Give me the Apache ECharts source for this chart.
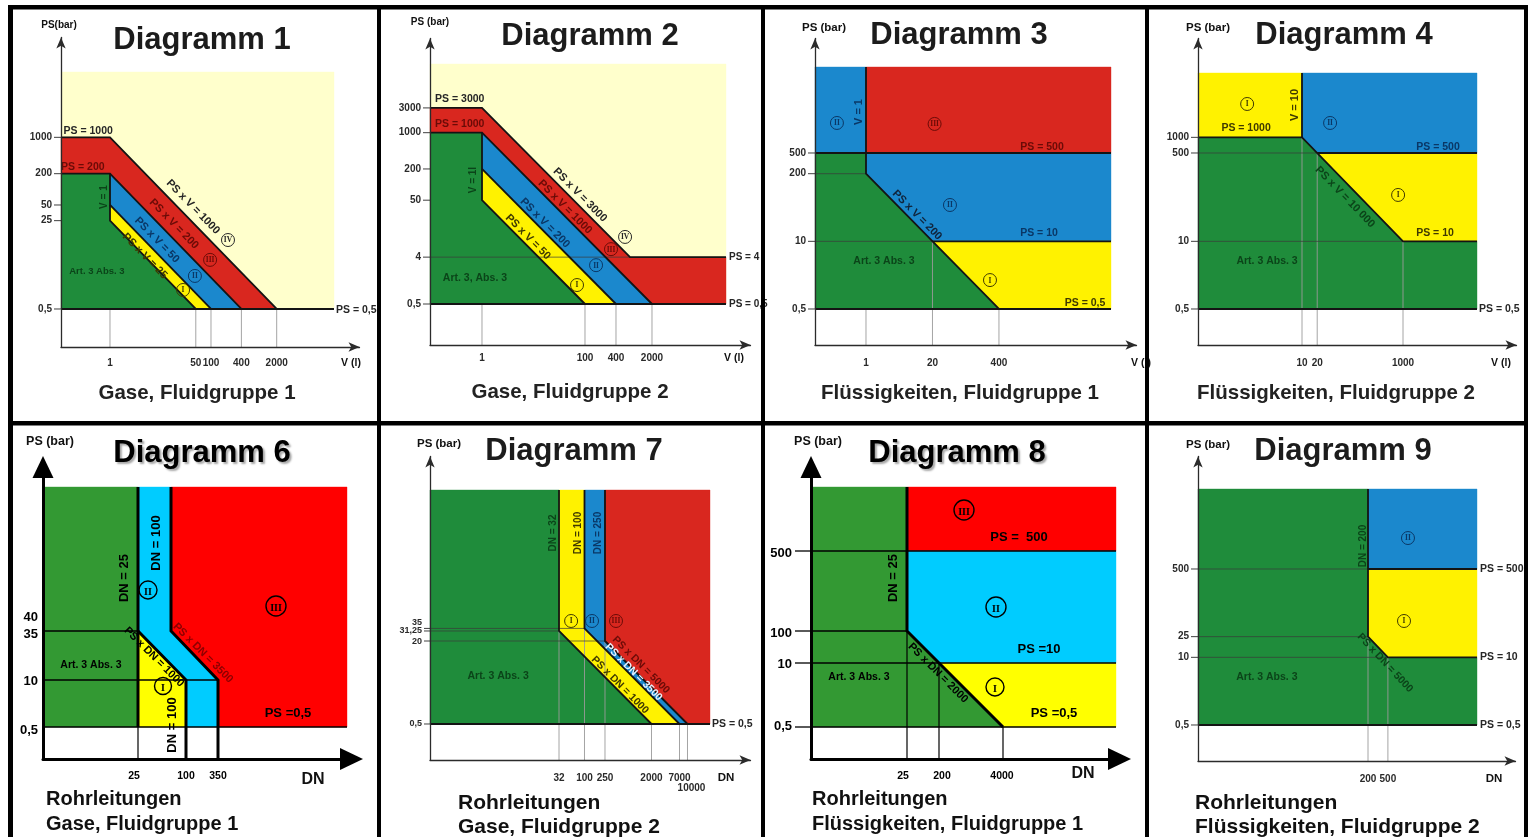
<!DOCTYPE html>
<html><head><meta charset="utf-8">
<script src="https://cdn.jsdelivr.net/npm/echarts@6/dist/echarts.min.js"></script>
<style>html,body{margin:0;padding:0;background:#fff}#c{width:1528px;height:837px}</style>
</head><body><div id="c"></div>
<script>
const FONT = '"Liberation Sans", Arial, Helvetica, sans-serif';

// ===== Diagramm 1 : Gase, Fluidgruppe 1 (V in l, PS in bar, log-log) =====
const d1XRange = [0.1071, 87240];
const d1YRange = [0.0929, 83150];
const d1Plot = [27260, 18060];
const d1XTicks = [1, 50, 100, 400, 2000];
const d1YTicks = [0.5, 25, 50, 200, 1000];
const d1Art3 = [['L', 0.5], ['L', 200], [1, 200], [1, 25], [50, 0.5]];
const d1Cat1 = [[1, 25], [1, 50], [100, 0.5], [50, 0.5]];
const d1Cat2 = [[1, 50], [1, 200], [400, 0.5], [100, 0.5]];
const d1Cat3 = [['L', 200], ['L', 1000], [1, 1000], [2000, 0.5], [400, 0.5], [1, 200]];
const d1Cat4 = [['L', 0.5], ['L', 'T'], ['R', 'T'], ['R', 0.5]];
const d1Limits = [
  [['L', 1000], [1, 1000], [2000, 0.5]],
  [['L', 200], [1, 200], [400, 0.5]],
  [[1, 200], [1, 25], [50, 0.5]],
  [[1, 50], [100, 0.5]],
  [['L', 0.5], ['R', 0.5]]
];
const d1Drops = [[1, 0.5], [50, 0.5], [100, 0.5], [400, 0.5], [2000, 0.5]];
const d1Levels = [];

// ===== Diagramm 2 : Gase, Fluidgruppe 2 =====
const d2XRange = [0.0978, 163600];
const d2YRange = [0.0811, 65250];
const d2Plot = [54700, 21050];
const d2XTicks = [1, 100, 400, 2000];
const d2YTicks = [0.5, 4, 50, 200, 1000, 3000];
const d2Art3 = [['L', 0.5], ['L', 1000], [1, 1000], [1, 50], [100, 0.5]];
const d2Cat1 = [[1, 50], [1, 200], [400, 0.5], [100, 0.5]];
const d2Cat2 = [[1, 200], [1, 1000], [2000, 0.5], [400, 0.5]];
const d2Cat3 = [['L', 1000], ['L', 3000], [1, 3000], [750, 4], ['R', 4], ['R', 0.5], [2000, 0.5], [1, 1000]];
const d2Cat4 = [['L', 0.5], ['L', 'T'], ['R', 'T'], ['R', 0.5]];
const d2Limits = [
  [['L', 3000], [1, 3000], [750, 4], ['R', 4]],
  [['L', 1000], [1, 1000], [2000, 0.5]],
  [[1, 1000], [1, 50], [100, 0.5]],
  [[1, 200], [400, 0.5]],
  [['L', 0.5], ['R', 0.5]]
];
const d2Drops = [[1, 0.5], [100, 0.5], [400, 0.5], [2000, 0.5]];
const d2Levels = [[4, 750]];

// ===== Diagramm 3 : Flüssigkeiten, Fluidgruppe 1 =====
const d3XRange = [0.1005, 196600];
const d3YRange = [0.1015, 79600];
const d3Plot = [62300, 22530];
const d3XTicks = [1, 20, 400];
const d3YTicks = [0.5, 10, 200, 500];
const d3Art3 = [['L', 0.5], ['L', 500], [1, 500], [1, 200], [400, 0.5]];
const d3Cat1 = [[20, 10], ['R', 10], ['R', 0.5], [400, 0.5]];
const d3Cat2 = [[1, 200], [1, 500], ['R', 500], ['R', 10], [20, 10]];
const d3Cat2Top = [['L', 500], ['L', 'T'], [1, 'T'], [1, 500]];
const d3Cat3 = [[1, 500], [1, 'T'], ['R', 'T'], ['R', 500]];
const d3Limits = [
  [['L', 500], ['R', 500]],
  [[1, 'T'], [1, 200], [400, 0.5]],
  [[20, 10], ['R', 10]],
  [['L', 0.5], ['R', 0.5]]
];
const d3Drops = [[1, 0.5], [20, 10], [400, 0.5]];
const d3Levels = [[200, 1], [10, 20]];

// ===== Diagramm 4 : Flüssigkeiten, Fluidgruppe 2 =====
const d4XRange = [0.0872, 176800];
const d4YRange = [0.1015, 79600];
const d4Plot = [29200, 17270];
const d4XTicks = [10, 20, 1000];
const d4YTicks = [0.5, 10, 500, 1000];
const d4Art3 = [['L', 0.5], ['L', 1000], [10, 1000], [1000, 10], ['R', 10], ['R', 0.5]];
const d4Cat1Top = [['L', 1000], ['L', 'T'], [10, 'T'], [10, 1000]];
const d4Cat1 = [[20, 500], ['R', 500], ['R', 10], [1000, 10]];
const d4Cat2 = [[10, 1000], [10, 'T'], ['R', 'T'], ['R', 500], [20, 500]];
const d4Limits = [
  [['L', 1000], [10, 1000], [1000, 10], ['R', 10]],
  [[10, 'T'], [10, 1000]],
  [[20, 500], ['R', 500]],
  [['L', 0.5], ['R', 0.5]]
];
const d4Drops = [[10, 1000], [20, 500], [1000, 10]];
const d4Levels = [[500, 20], [10, 1000]];

// ===== Diagramm 6 : Rohrleitungen Gase, Fluidgruppe 1 (schematic axes) =====
const d6XRange = [0, 30.85];
const d6YRange = [0, 29.2];
const d6Plot = [30.4, 27.2];
const d6XTicks = [9.5, 14.3, 17.5];
const d6XLabels = ['25', '100', '350'];
const d6YTicks = [3.2, 7.9, 12.8, 14.2];
const d6YLabels = ['0,5', '10', '35', '40'];
const d6Art3 = [['L', 3.2], ['L', 'T'], [9.5, 'T'], [9.5, 3.2]];
const d6Cat1 = [[9.5, 3.2], [9.5, 12.8], [14.3, 7.9], [14.3, 3.2]];
const d6Cat2 = [[9.5, 'T'], [12.8, 'T'], [12.8, 12.8], [17.5, 7.9], [17.5, 3.2], [14.3, 3.2], [14.3, 7.9], [9.5, 12.8]];
const d6Cat3 = [[12.8, 'T'], ['R', 'T'], ['R', 3.2], [17.5, 3.2], [17.5, 7.9], [12.8, 12.8]];
const d6Limits = [
  [[9.5, 'T'], [9.5, 3.2]],
  [[12.8, 'T'], [12.8, 12.8], [17.5, 7.9], [17.5, 'B']],
  [[9.5, 12.8], [14.3, 7.9], [14.3, 'B']]
];
const d6Drops = [[9.5, 3.2]];
const d6Levels = [[12.8, 9.5], [7.9, 17.5], [3.2, 'R']];

// ===== Diagramm 7 : Rohrleitungen Gase, Fluidgruppe 2 (log-log) =====
const d7XRange = [0.1, 167300];
const d7YRange = [0.1009, 72950];
const d7Plot = [27360, 16450];
const d7XTicks = [32, 100, 250, 2000, 7000, 10000];
const d7YTicks = [0.5, 20, 31.25, 35];
const d7Art3 = [['L', 0.5], ['L', 'T'], [32, 'T'], [32, 31.25], [2000, 0.5]];
const d7Cat1 = [[32, 31.25], [32, 'T'], [100, 'T'], [100, 35], [7000, 0.5], [2000, 0.5]];
const d7Cat2 = [[100, 35], [100, 'T'], [250, 'T'], [250, 20], [10000, 0.5], [7000, 0.5]];
const d7Cat3 = [[250, 20], [250, 'T'], ['R', 'T'], ['R', 0.5], [10000, 0.5]];
const d7Limits = [
  [[32, 'T'], [32, 31.25], [2000, 0.5]],
  [[100, 'T'], [100, 35], [7000, 0.5]],
  [[250, 'T'], [250, 20], [10000, 0.5]],
  [['L', 0.5], ['R', 0.5]]
];
const d7Drops = [[32, 31.25], [100, 35], [250, 20], [2000, 0.5], [7000, 0.5], [10000, 0.5]];
const d7Levels = [[35, 100], [31.25, 32], [20, 250]];

// ===== Diagramm 8 : Rohrleitungen Flüssigkeiten, Fluidgruppe 1 (schematic axes) =====
const d8XRange = [0, 30.85];
const d8YRange = [0, 29.2];
const d8Plot = [30.5, 27.2];
const d8XTicks = [9.6, 12.8, 19.2];
const d8XLabels = ['25', '200', '4000'];
const d8YTicks = [3.2, 9.6, 12.8, 20.8];
const d8YLabels = ['0,5', '10', '100', '500'];
const d8Art3 = [['L', 3.2], ['L', 'T'], [9.6, 'T'], [9.6, 12.8], [19.2, 3.2]];
const d8Cat1 = [[12.8, 9.6], ['R', 9.6], ['R', 3.2], [19.2, 3.2]];
const d8Cat2 = [[9.6, 12.8], [9.6, 20.8], ['R', 20.8], ['R', 9.6], [12.8, 9.6]];
const d8Cat3 = [[9.6, 20.8], [9.6, 'T'], ['R', 'T'], ['R', 20.8]];
const d8Limits = [[[9.6, 'T'], [9.6, 12.8], [19.2, 3.2]]];
const d8Drops = [[9.6, 12.8], [12.8, 9.6], [19.2, 3.2]];
const d8Levels = [[20.8, 'R'], [12.8, 9.6], [9.6, 'R'], [3.2, 'R']];

// ===== Diagramm 9 : Rohrleitungen Flüssigkeiten, Fluidgruppe 2 (log-log) =====
const d9XRange = [0.0796, 178200];
const d9YRange = [0.1015, 72850];
const d9Plot = [30270, 17270];
const d9XTicks = [200, 500];
const d9YTicks = [0.5, 10, 25, 500];
const d9Art3 = [['L', 0.5], ['L', 'T'], [200, 'T'], [200, 25], [500, 10], ['R', 10], ['R', 0.5]];
const d9Cat1 = [[200, 25], [200, 500], ['R', 500], ['R', 10], [500, 10]];
const d9Cat2 = [[200, 500], [200, 'T'], ['R', 'T'], ['R', 500]];
const d9Limits = [
  [[200, 'T'], [200, 25], [500, 10], ['R', 10]],
  [[200, 500], ['R', 500]],
  [['L', 0.5], ['R', 0.5]]
];
const d9Drops = [[200, 25], [500, 10]];
const d9Levels = [[500, 200], [25, 200], [10, 500]];

// ---------- styles ----------
const SOFT = { g: '#1f8c3b', y: '#fff200', b: '#1b88cd', r: '#d9271f', bg: '#ffffcc' };
const VIVID = { g: '#339933', y: '#ffff00', b: '#00ccff', r: '#ff0000' };
const INK = { g: '#0b4419', y: '#3f3900', b: '#0a3766', r: '#6b0b07', d: '#262626' };
const de = v => String(v).replace('.', ',');
const nt = (at, text, color, size, rot, align, dx, dy) => ({ at, text, color, size, rot: rot || 0, align: align || 'center', dx: dx || 0, dy: dy || 0 });

const panels = [
  { box: [61, 37.5, 298.5, 309.5], vivid: false, xType: 'log', yType: 'log', xRange: d1XRange, yRange: d1YRange, plot: d1Plot,
    regions: [[d1Cat4, SOFT.bg], [d1Cat3, SOFT.r], [d1Cat2, SOFT.b], [d1Cat1, SOFT.y], [d1Art3, SOFT.g]],
    limits: d1Limits, drops: d1Drops, levels: d1Levels,
    xTicks: d1XTicks, xLabels: d1XTicks.map(de), xLabelDy: 16, yTicks: d1YTicks, yLabels: d1YTicks.map(de), yTickLen: 7,
    notes: [nt([0.37, 1320], 'PS = 1000', INK.d, 10.5), nt([0.29, 270], 'PS = 200', INK.r, 10.5), nt([0.76, 71], 'V = 1', INK.g, 10, 90),
      nt([44, 46], 'PS x V = 1000', INK.d, 11, -45.8), nt([18.5, 21.6], 'PS x V = 200', INK.r, 11, -45.8), nt([8.5, 10.6], 'PS x V = 50', INK.b, 11, -45.8),
      nt([4.9, 5.2], 'PS x V = 25', INK.y, 11, -45.8), nt([0.55, 2.6], 'Art. 3 Abs. 3', INK.g, 9.5), nt(['R', 0.5], 'PS = 0,5', INK.d, 10.5, 0, 'left', 2, 1)],
    rings: [[[217, 10.6], 'IV', INK.d], [[96, 4.4], 'III', INK.r], [[48, 2.16], 'II', INK.b], [[28, 1.16], 'I', INK.y]] },
  { box: [430, 38.5, 320.5, 306.5], vivid: false, xType: 'log', yType: 'log', xRange: d2XRange, yRange: d2YRange, plot: d2Plot,
    regions: [[d2Cat4, SOFT.bg], [d2Cat3, SOFT.r], [d2Cat2, SOFT.b], [d2Cat1, SOFT.y], [d2Art3, SOFT.g]],
    limits: d2Limits, drops: d2Drops, levels: d2Levels,
    xTicks: d2XTicks, xLabels: d2XTicks.map(de), xLabelDy: 13, yTicks: d2YTicks, yLabels: d2YTicks.map(de), yTickLen: 7,
    notes: [nt([0.37, 4460], 'PS = 3000', INK.d, 10.5), nt([0.37, 1470], 'PS = 1000', INK.r, 10.5), nt([0.67, 122], 'V = 1l', INK.g, 10, 90),
      nt([80, 63], 'PS x V = 3000', INK.d, 11, -45.2), nt([41, 37], 'PS x V = 1000', INK.r, 11, -45.2), nt([16.7, 18.2], 'PS x V = 200', INK.b, 11, -45.2),
      nt([7.8, 9.8], 'PS x V = 50', INK.y, 11, -45.2), nt([0.73, 1.58], 'Art. 3, Abs. 3', INK.g, 10.5),
      nt(['R', 4], 'PS = 4', INK.d, 10, 0, 'left', 3), nt(['R', 0.5], 'PS = 0,5', INK.d, 10, 0, 'left', 3)],
    rings: [[[600, 9.8], 'IV', INK.d], [[320, 5.7], 'III', INK.r], [[164, 2.8], 'II', INK.b], [[70, 1.16], 'I', INK.y]] },
  { box: [815, 38.5, 321.5, 306.5], vivid: false, xType: 'log', yType: 'log', xRange: d3XRange, yRange: d3YRange, plot: d3Plot,
    regions: [[d3Cat2Top, SOFT.b], [d3Cat3, SOFT.r], [d3Cat2, SOFT.b], [d3Cat1, SOFT.y], [d3Art3, SOFT.g]],
    limits: d3Limits, drops: d3Drops, levels: d3Levels,
    xTicks: d3XTicks, xLabels: d3XTicks.map(de), xLabelDy: 18, yTicks: d3YTicks, yLabels: d3YTicks.map(de), yTickLen: 7,
    notes: [nt([0.73, 3070], 'V = 1', INK.b, 11, 90), nt([2780, 650], 'PS = 500', INK.r, 10.5), nt([10, 32], 'PS x V = 200', '#10233a', 11, -45.5),
      nt([2430, 14.5], 'PS = 10', INK.b, 10.5), nt([2.25, 4.2], 'Art. 3 Abs. 3', INK.g, 10.5), nt([19300, 0.65], 'PS = 0,5', INK.y, 10.5)],
    rings: [[[0.27, 1890], 'II', INK.b], [[22, 1810], 'III', INK.r], [[44, 50], 'II', INK.b], [[267, 1.8], 'I', INK.y]] },
  { box: [1198, 38.5, 318.5, 306.5], vivid: false, xType: 'log', yType: 'log', xRange: d4XRange, yRange: d4YRange, plot: d4Plot,
    regions: [[d4Cat1Top, SOFT.y], [d4Cat2, SOFT.b], [d4Cat1, SOFT.y], [d4Art3, SOFT.g]],
    limits: d4Limits, drops: d4Drops, levels: d4Levels,
    xTicks: d4XTicks, xLabels: d4XTicks.map(de), xLabelDy: 18, yTicks: d4YTicks, yLabels: d4YTicks.map(de), yTickLen: 7,
    notes: [nt([0.78, 1510], 'PS = 1000', INK.y, 10.5), nt([7.3, 4190], 'V = 10', INK.y, 11, 90), nt([4930, 650], 'PS = 500', INK.b, 10.5),
      nt([71, 71], 'PS x V = 10 000', INK.g, 11, -45.8), nt([4300, 14.5], 'PS = 10', INK.y, 10.5), nt([2.03, 4.2], 'Art. 3 Abs. 3', INK.g, 10.5),
      nt(['R', 0.5], 'PS = 0,5', INK.d, 10.5, 0, 'left', 2)],
    rings: [[[0.82, 4380], 'I', INK.y], [[36, 1890], 'II', INK.b], [[800, 78], 'I', INK.y]] },
  { box: [43, 467, 308.5, 292], vivid: true, xType: 'value', yType: 'value', xRange: d6XRange, yRange: d6YRange, plot: d6Plot,
    regions: [[d6Art3, VIVID.g], [d6Cat1, VIVID.y], [d6Cat2, VIVID.b], [d6Cat3, VIVID.r]],
    limits: d6Limits, drops: d6Drops, levels: d6Levels,
    xTicks: d6XTicks, xLabels: d6XLabels, xLabelDy: 17, xLabelDx: [-4, 0, 0], yTicks: d6YTicks, yLabels: d6YLabels, yLabelDy: [3, 1, 3, 0], yTickLen: 0, yGap: 5,
    notes: [nt([8.1, 18.1], 'DN = 25', '#000', 13, 90), nt([11.3, 21.6], 'DN = 100', '#000', 13, 90), nt([11.1, 10.2], 'PS x DN = 1000', '#000', 11, -45),
      nt([16.0, 10.6], 'PS x DN = 3500', '#8b0000', 11, -45), nt([4.8, 9.4], 'Art. 3 Abs. 3', '#000', 10.5), nt([12.9, 3.4], 'DN = 100', '#000', 13, 90),
      nt([24.5, 4.6], 'PS =0,5', '#000', 13)],
    rings: [[[10.5, 16.9], 'II', '#000', 9], [[23.3, 15.3], 'III', '#000', 10], [[12.0, 7.3], 'I', '#000', 8.5]] },
  { box: [430, 456.5, 320.5, 303.5], vivid: false, xType: 'log', yType: 'log', xRange: d7XRange, yRange: d7YRange, plot: d7Plot,
    regions: [[d7Art3, SOFT.g], [d7Cat1, SOFT.y], [d7Cat2, SOFT.b], [d7Cat3, SOFT.r]],
    limits: d7Limits, drops: d7Drops, levels: d7Levels,
    xTicks: d7XTicks, xLabels: d7XTicks.map(de), xLabelDy: 18, xLabelDx: [0, 0, 0, 0, 0, 4], xLabelDyX: [0, 0, 0, 0, 0, 10],
    yTicks: d7YTicks, yLabels: d7YTicks.map(de), yLabelDy: [0, 1, 0, -6], yTickLen: 6, yLabelSize: 9,
    notes: [nt([24.5, 2430], 'DN = 32', INK.g, 10, 90), nt([75, 2430], 'DN = 100', INK.y, 10, 90), nt([183, 2430], 'DN = 250', INK.b, 10, 90),
      nt([1250, 6.9], 'PS x DN = 5000', INK.r, 10.5, -45.2), nt([900, 5.0], 'PS x DN = 3500', '#e6f3ff', 10.5, -45.2),
      nt([489, 2.83], 'PS x DN = 1000', INK.y, 10.5, -45.2), nt([2.1, 4.2], 'Art. 3 Abs. 3', INK.g, 10.5), nt(['R', 0.5], 'PS = 0,5', INK.d, 10.5, 0, 'left', 2)],
    rings: [[[55, 48.7], 'I', INK.y], [[140, 48.7], 'II', INK.b], [[409, 48.7], 'III', INK.r]] },
  { box: [811, 467, 308.5, 292], vivid: true, xType: 'value', yType: 'value', xRange: d8XRange, yRange: d8YRange, plot: d8Plot,
    regions: [[d8Art3, VIVID.g], [d8Cat3, VIVID.r], [d8Cat2, VIVID.b], [d8Cat1, VIVID.y]],
    limits: d8Limits, drops: d8Drops, levels: d8Levels,
    xTicks: d8XTicks, xLabels: d8XLabels, xLabelDy: 17, xLabelDx: [-4, 3, -1], yTicks: d8YTicks, yLabels: d8YLabels, yLabelDy: [-1, 1, 2, 2], yTickLen: 16, yGap: 3,
    notes: [nt([8.2, 18.1], 'DN = 25', '#000', 13, 90), nt([20.8, 22.2], 'PS =  500', '#000', 13), nt([22.8, 11.0], 'PS =10', '#000', 13),
      nt([24.3, 4.6], 'PS =0,5', '#000', 13), nt([12.7, 8.6], 'PS x DN = 2000', '#000', 11, -45), nt([4.8, 8.2], 'Art. 3 Abs. 3', '#000', 10.5)],
    rings: [[[15.3, 24.9], 'III', '#000', 10], [[18.5, 15.2], 'II', '#000', 10], [[18.4, 7.2], 'I', '#000', 9]] },
  { box: [1198, 456.5, 317.5, 304.5], vivid: false, xType: 'log', yType: 'log', xRange: d9XRange, yRange: d9YRange, plot: d9Plot,
    regions: [[d9Art3, SOFT.g], [d9Cat2, SOFT.b], [d9Cat1, SOFT.y]],
    limits: d9Limits, drops: d9Drops, levels: d9Levels,
    xTicks: d9XTicks, xLabels: d9XTicks.map(de), xLabelDy: 18, yTicks: d9YTicks, yLabels: d9YTicks.map(de), yTickLen: 7,
    notes: [nt([159, 1380], 'DN = 200', INK.g, 10, 90), nt([438, 7.8], 'PS x DN = 5000', INK.g, 10.5, -47), nt([1.9, 4.2], 'Art. 3 Abs. 3', INK.g, 10.5),
      nt(['R', 500], 'PS = 500', INK.d, 10.5, 0, 'left', 3), nt(['R', 10], 'PS = 10', INK.d, 10.5, 0, 'left', 3), nt(['R', 0.5], 'PS = 0,5', INK.d, 10.5, 0, 'left', 3)],
    rings: [[[1260, 1970], 'II', INK.b], [[1050, 50], 'I', INK.y]] }
];

function buildItems(p) {
  const items = [];
  p.regions.forEach(([pts, color]) => items.push({ k: 'poly', pts, color }));
  const drop = p.vivid ? { color: '#000', w: 1.2 } : { color: '#9a9a9a', w: 0.9 };
  const lvl = p.vivid ? { color: '#000', w: 1.3 } : { color: '#3a3a3a', w: 0.7 };
  p.drops.forEach(([x, yTop]) => items.push(Object.assign({ k: 'line', pts: [[x, 'B'], [x, yTop]] }, drop)));
  p.levels.forEach(([y, xEnd]) => items.push(Object.assign({ k: 'line', pts: [['L', y], [xEnd, y]] }, lvl)));
  p.limits.forEach(pts => items.push({ k: 'line', pts, color: p.vivid ? '#000' : '#141414', w: p.vivid ? 3 : 1.8 }));
  p.yTicks.forEach((v, i) => items.push({ k: 'ytick', v, text: p.yLabels[i], dy: (p.yLabelDy || [])[i] || 0 }));
  p.xTicks.forEach((v, i) => items.push({ k: 'xtick', v, text: p.xLabels[i], dx: (p.xLabelDx || [])[i] || 0, dy: (p.xLabelDyX || [])[i] || 0 }));
  p.notes.forEach(n => items.push(Object.assign({ k: 'text' }, n)));
  p.rings.forEach(r => items.push({ k: 'ring', at: r[0], text: r[1], color: r[2], r: r[3] || 6.5 }));
  return items;
}

function makeRender(p, items) {
  const rs = pt => [pt[0] === 'L' ? p.xRange[0] : pt[0] === 'R' ? p.plot[0] : pt[0],
                    pt[1] === 'B' ? p.yRange[0] : pt[1] === 'T' ? p.plot[1] : pt[1]];
  const tickInk = p.vivid ? '#000' : '#2a2a2a';
  return function (params, api) {
    const it = items[params.dataIndex];
    const C = pt => api.coord(rs(pt));
    if (it.k === 'poly') {
      return { type: 'polygon', z2: 1, shape: { points: it.pts.map(C) }, style: { fill: it.color, stroke: it.color, lineWidth: 0.4 } };
    }
    if (it.k === 'line') {
      return { type: 'polyline', z2: it.w > 1.5 ? 8 : 4, shape: { points: it.pts.map(C) }, style: { stroke: it.color, lineWidth: it.w, fill: 'none', lineJoin: 'miter' } };
    }
    if (it.k === 'ytick') {
      const c = api.coord([p.xRange[0], it.v]);
      const len = p.yTickLen || 0;
      const ch = [];
      if (len) ch.push({ type: 'line', z2: 6, shape: { x1: c[0] - len, y1: c[1], x2: c[0], y2: c[1] }, style: { stroke: tickInk, lineWidth: p.vivid ? 1.3 : 0.9 } });
      ch.push({ type: 'text', z2: 20, x: c[0] - len - (p.yGap || 2), y: c[1] + it.dy,
        style: { text: it.text, align: 'right', verticalAlign: 'middle', fill: tickInk, fontSize: p.yLabelSize || (p.vivid ? 13 : 10), fontWeight: 'bold', fontFamily: FONT } });
      return { type: 'group', children: ch };
    }
    if (it.k === 'xtick') {
      const c = api.coord([it.v, p.yRange[0]]);
      return { type: 'text', z2: 20, x: c[0] + it.dx, y: c[1] + p.xLabelDy + it.dy,
        style: { text: it.text, align: 'center', verticalAlign: 'middle', fill: tickInk, fontSize: p.vivid ? 10.5 : 10, fontWeight: 'bold', fontFamily: FONT } };
    }
    if (it.k === 'text') {
      const c = C(it.at);
      return { type: 'text', z2: 20, x: c[0] + it.dx, y: c[1] + it.dy, rotation: it.rot * Math.PI / 180,
        style: { text: it.text, align: it.align, verticalAlign: 'middle', fill: it.color, fontSize: it.size, fontWeight: 'bold', fontFamily: FONT } };
    }
    if (it.k === 'ring') {
      const c = C(it.at);
      return { type: 'group', children: [
        { type: 'circle', z2: 20, shape: { cx: c[0], cy: c[1], r: it.r }, style: { fill: 'none', stroke: it.color, lineWidth: p.vivid ? 1.4 : 1 } },
        { type: 'text', z2: 21, x: c[0], y: c[1] + (p.vivid ? 2 : 0.5), style: { text: it.text, align: 'center', verticalAlign: 'middle', fill: it.color,
          fontSize: p.vivid ? 10 : 7.5, fontWeight: 'bold', fontFamily: 'serif' } }
      ] };
    }
    return null;
  };
}

const grids = [], xAxes = [], yAxes = [], series = [];
panels.forEach((p, i) => {
  grids.push({ left: p.box[0], top: p.box[1], width: p.box[2], height: p.box[3] });
  const lineStyle = { color: p.vivid ? '#000' : '#2b2b2b', width: p.vivid ? 3 : 1.3 };
  const common = { gridIndex: i, z: 10, axisTick: { show: false }, axisLabel: { show: false }, splitLine: { show: false } };
  xAxes.push(Object.assign({ type: p.xType, min: p.xRange[0], max: p.xRange[1],
    axisLine: { show: true, onZero: false, symbol: ['none', p.vivid ? 'triangle' : 'arrow'], symbolSize: p.vivid ? [22, 23] : [7, 11], lineStyle } }, common));
  yAxes.push(Object.assign({ type: p.yType, min: p.yRange[0], max: p.yRange[1],
    axisLine: { show: true, onZero: false, symbol: ['none', p.vivid ? 'triangle' : 'arrow'], symbolSize: p.vivid ? [21, 22] : [7, 11], lineStyle } }, common));
  const items = buildItems(p);
  series.push({ type: 'custom', xAxisIndex: i, yAxisIndex: i, silent: true, animation: false, clip: false,
    data: items.map((_, k) => [p.xRange[0], p.yRange[0], k]), encode: { x: 0, y: 1 }, renderItem: makeRender(p, items) });
});

// ---------- texts & frame ----------
const titles = [['Diagramm 1', 202, 40, false], ['Diagramm 2', 590, 36, false], ['Diagramm 3', 959, 35, false], ['Diagramm 4', 1344, 35, false],
  ['Diagramm 6', 202, 453, true], ['Diagramm 7', 574, 451, false], ['Diagramm 8', 957, 453, true], ['Diagramm 9', 1343, 451, false]];
const subTop = [['Gase, Fluidgruppe 1', 197, 393], ['Gase, Fluidgruppe 2', 570, 392], ['Flüssigkeiten, Fluidgruppe 1', 960, 393], ['Flüssigkeiten, Fluidgruppe 2', 1336, 393]];
const subBottom = [['Rohrleitungen', 'Gase, Fluidgruppe 1', 46, 799, 824, 20], ['Rohrleitungen', 'Gase, Fluidgruppe 2', 458, 803, 827, 21],
  ['Rohrleitungen', 'Flüssigkeiten, Fluidgruppe 1', 812, 799, 824, 20], ['Rohrleitungen', 'Flüssigkeiten, Fluidgruppe 2', 1195, 803, 827, 21]];
const axisNames = [['PS(bar)', 59, 25, 10], ['PS (bar)', 430, 22, 10], ['PS (bar)', 824, 28, 11.5], ['PS (bar)', 1208, 28, 11.5],
  ['PS (bar)', 50, 442, 12.5], ['PS (bar)', 439, 444, 11.5], ['PS (bar)', 818, 442, 12.5], ['PS (bar)', 1208, 445, 11.5],
  ['V (l)', 351, 363, 10.5], ['V (l)', 734, 358, 10.5], ['V (l)', 1141, 363, 10.5], ['V (l)', 1501, 363, 10.5],
  ['DN', 313, 780, 16], ['DN', 726, 778, 11.5], ['DN', 1083, 774, 16], ['DN', 1494, 779, 11.5]];

const gfx = [];
titles.forEach(([t, x, y, v]) => gfx.push({ type: 'text', x, y, z: 50, style: { text: t, align: 'center', verticalAlign: 'middle', fill: v ? '#000' : '#1c1c1c',
  fontSize: 31, fontWeight: 'bold', fontFamily: FONT, textShadowColor: v ? 'rgba(0,0,0,0.35)' : 'transparent', textShadowOffsetX: v ? 2 : 0, textShadowOffsetY: v ? 2 : 0, textShadowBlur: v ? 2 : 0 } }));
subTop.forEach(([t, x, y]) => gfx.push({ type: 'text', x, y, z: 50, style: { text: t, align: 'center', verticalAlign: 'middle', fill: '#222', fontSize: 20.5, fontWeight: 'bold', fontFamily: FONT } }));
subBottom.forEach(([a, b, x, y1, y2, s]) => {
  gfx.push({ type: 'text', x, y: y1, z: 50, style: { text: a, align: 'left', verticalAlign: 'middle', fill: '#111', fontSize: s, fontWeight: 'bold', fontFamily: FONT } });
  gfx.push({ type: 'text', x, y: y2, z: 50, style: { text: b, align: 'left', verticalAlign: 'middle', fill: '#111', fontSize: s, fontWeight: 'bold', fontFamily: FONT } });
});
axisNames.forEach(([t, x, y, s]) => gfx.push({ type: 'text', x, y, z: 50, style: { text: t, align: 'center', verticalAlign: 'middle', fill: '#111', fontSize: s, fontWeight: 'bold', fontFamily: FONT } }));
[[8, 5, 1520, 4.5], [8, 5, 5, 832], [377, 5, 4, 832], [761, 5, 4, 832], [1145, 5, 4, 832], [1524, 5, 4, 832], [8, 421, 1520, 4.5]]
  .forEach(([x, y, w, h]) => gfx.push({ type: 'rect', z: 100, shape: { x, y, width: w, height: h }, style: { fill: '#000' } }));

const chart = echarts.init(document.getElementById('c'), null, { renderer: 'canvas' });
chart.setOption({
  backgroundColor: '#fff',
  animation: false,
  grid: grids, xAxis: xAxes, yAxis: yAxes, series,
  graphic: { elements: gfx }
});
</script></body></html>
